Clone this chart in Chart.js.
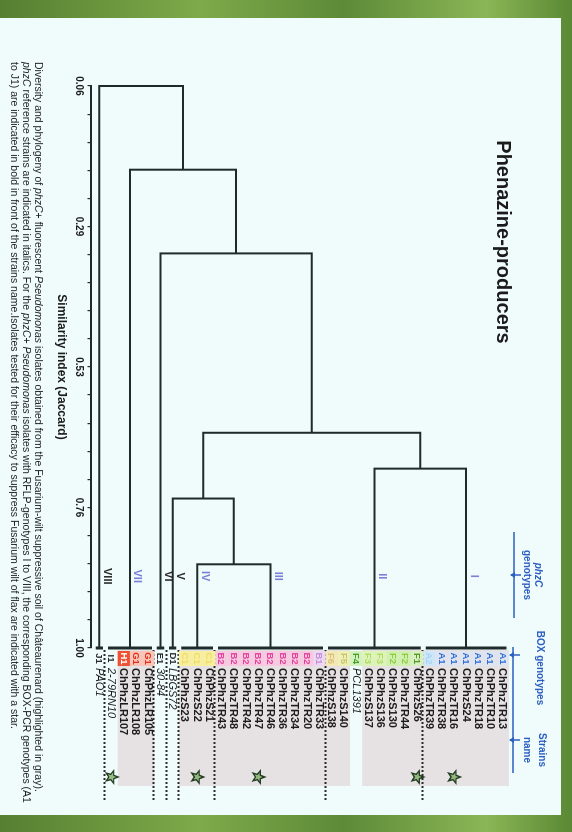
<!DOCTYPE html>
<html>
<head>
<meta charset="utf-8">
<script src="https://cdn.jsdelivr.net/npm/chart.js@4/dist/chart.umd.min.js"></script>
<style>
  body { margin:0; width:572px; height:832px; overflow:hidden; position:relative;
    background: linear-gradient(90deg, #567f31 0%, #7eaa4a 35%, #5d8a37 60%, #8bb656 85%, #5a8834 100%);
    font-family: "Liberation Sans", Arial, sans-serif; }
  #panel { position:absolute; left:0; top:18px; width:561px; height:797px; background:#effcfb; }
  #figure { position:absolute; left:0; top:0; width:832px; height:572px;
    transform-origin:0 0; transform: translate(572px, 0) rotate(90deg); }
  #figure canvas { position:absolute; left:0; top:0; }
  .txt { position:absolute; white-space:nowrap; color:#1b1b1b; }
  .title { left:92px; top:57px; width:300px; text-align:center; font-weight:bold; font-size:20px; }
  .head { color:#2d5fc2; font-weight:bold; font-size:10px; text-align:center; width:120px; }
  .caption { left:62px; top:527px; font-size:10.5px; line-height:12px; color:#222; }
</style>
</head>
<body>
<div id="panel"></div>
<div id="figure">
  <canvas id="chart" width="832" height="572"></canvas>
  <div class="txt title">Phenazine-producers</div>
  <div class="txt head" style="left:515px; top:28px;"><i>phzC</i></div>
  <div class="txt head" style="left:515px; top:39px;">genotypes</div>
  <div class="txt head" style="left:608px; top:26px;">BOX genotypes</div>
  <div class="txt head" style="left:690px; top:24px;">Strains</div>
  <div class="txt head" style="left:690px; top:39px;">name</div>
  <div class="txt caption">
    <div>Diversity and phylogeny of <i>phzC</i>+ fluorescent <i>Pseudomonas</i> isolates obtained from the Fusarium-wilt suppressive soil of Châteaurenard (highlighted in gray).</div>
    <div><i>phzC</i> reference strains are indicated in italics. For the <i>phzC</i>+ <i>Pseudomonas</i> isolates with RFLP-genotypes I to VIII, the corresponding BOX-PCR genotypes (A1</div>
    <div>to J1) are indicated in bold in front of the strains name.Isolates tested for their efficacy to suppress Fusarium wilt of flax are indicated with a star.</div>
  </div>
</div>
<script>
// RFLP clusters (phzC genotypes), listed top to bottom
const clusterNames = ['I', 'II', 'III', 'IV', 'V', 'VI', 'VII', 'VIII'];
const clusterSizes = [7, 8, 9, 3, 1, 1, 4, 1];

// merges: node ids 0-7 are clusters, 8+ are merged nodes in order
const mergeLeft = [3, 1, 4, 10, 5, 6, 7];
const mergeRight = [2, 0, 8, 9, 11, 12, 13];
const mergeSimilarity = [0.86, 0.70, 0.75, 0.64, 0.34, 0.20, 0.06];

const boxGenotypes = ['A1', 'A1', 'A1', 'A1', 'A1', 'A1', 'A2',
  'F1', 'F2', 'F2', 'F3', 'F3', 'F4', 'F5', 'F6',
  'B1', 'B2', 'B2', 'B2', 'B2', 'B2', 'B2', 'B2', 'B2',
  'C1', 'C1', 'C1', 'D1', 'E1', 'G1', 'G1', 'H1', 'I1', 'J1'];
const strainNames = ['ChPhzTR13', 'ChPhzTR10', 'ChPhzTR18', 'ChPhzS24', 'ChPhzTR16', 'ChPhzTR38', 'ChPhzTR39',
  'ChPhzS26', 'ChPhzTR44', 'ChPhzS130', 'ChPhzS136', 'ChPhzS137', 'PCL1391', 'ChPhzS140', 'ChPhzS138',
  'ChPhzTR33', 'ChPhzTR20', 'ChPhzTR34', 'ChPhzTR36', 'ChPhzTR46', 'ChPhzTR47', 'ChPhzTR42', 'ChPhzTR48', 'ChPhzTR43',
  'ChPhzS21', 'ChPhzS22', 'ChPhzS23', 'LBGS72', '30-84', 'ChPhzLR105', 'ChPhzLR108', 'ChPhzLR107', '2-79RN10', 'PAO1'];
const testedStrains = ['ChPhzTR16', 'ChPhzS26', 'ChPhzTR47', 'ChPhzS22', '2-79RN10'];
const axisTickLabels = ['0.06', '0.29', '0.53', '0.76', '1.00'];

// tag colours for BOX genotypes: [text, background]
const tagColors = {
  A1: ['#2f6fd6', '#dfe4ef'], A2: ['#a9d3f3', '#cde7fa'],
  F1: ['#4f9a25', '#d9efc2'], F2: ['#8fcb47', '#d0f1ae'], F3: ['#b0da6c', '#ddf4b6'],
  F4: ['#47a02c', '#d3f2bf'], F5: ['#c9c56c', '#eef0b6'], F6: ['#d8c27a', '#f3e8b6'],
  B1: ['#c58fd6', '#eed7f2'], B2: ['#e2409a', '#f7c9e1'],
  C1: ['#efdc6a', '#f7ee9e'],
  G1: ['#e3301f', '#f8c5b6'], H1: ['#ffffff', '#ef5233']
};
const lightNumerals = ['I', 'II', 'III', 'IV', 'VII'];

const leafCluster = [];
clusterSizes.forEach((n, c) => { for (let k = 0; k < n; k++) leafCluster.push(c); });
const clusterFirst = clusterNames.map((_, c) => leafCluster.indexOf(c));
const clusterLast = clusterNames.map((_, c) => leafCluster.lastIndexOf(c));

const nodePos = clusterNames.map((_, c) => (clusterFirst[c] + clusterLast[c]) / 2);
const nodeSim = clusterNames.map(() => 1);

const lineStyle = { showLine: true, pointRadius: 0, borderColor: '#1f2a2c', borderWidth: 2, clip: false, tension: 0 };
const datasets = [];

mergeLeft.forEach((a, k) => {
  const b = mergeRight[k], s = mergeSimilarity[k];
  datasets.push(Object.assign({
    data: [{ x: nodeSim[a], y: nodePos[a] }, { x: s, y: nodePos[a] }, { x: s, y: nodePos[b] }, { x: nodeSim[b], y: nodePos[b] }]
  }, lineStyle));
  nodePos.push((nodePos[a] + nodePos[b]) / 2);
  nodeSim.push(s);
});

// bar at 1.00 spanning the strains of each cluster
clusterNames.forEach((_, c) => {
  datasets.push(Object.assign({
    data: [{ x: 1, y: clusterFirst[c] - 0.3 }, { x: 1, y: clusterLast[c] + 0.3 }]
  }, lineStyle, { borderWidth: 3 }));
});

function star(ctx, x, y, r1, r2) {
  ctx.beginPath();
  for (let i = 0; i < 10; i++) {
    const r = i % 2 ? r2 : r1;
    const a = -Math.PI / 2 + i * Math.PI / 5;
    ctx.lineTo(x + r * Math.cos(a), y + r * Math.sin(a));
  }
  ctx.closePath();
}

const leafPlugin = {
  id: 'leafLabels',
  beforeDatasetsDraw(chart) {
    const ctx = chart.ctx, ys = chart.scales.y;
    const half = (ys.getPixelForValue(1) - ys.getPixelForValue(0)) / 2;
    ctx.save();
    // grey band behind the soil isolates
    ctx.fillStyle = '#e6e1e3';
    let i = 0;
    while (i < strainNames.length) {
      if (!strainNames[i].startsWith('ChPhz')) { i++; continue; }
      let j = i;
      while (j + 1 < strainNames.length && strainNames[j + 1].startsWith('ChPhz')) j++;
      const top = ys.getPixelForValue(i) - half, bot = ys.getPixelForValue(j) + half;
      ctx.fillRect(650, top, 136, bot - top);
      i = j + 1;
    }
    ctx.restore();
  },
  afterDatasetsDraw(chart) {
    const ctx = chart.ctx, ys = chart.scales.y, xs = chart.scales.x;
    const half = (ys.getPixelForValue(1) - ys.getPixelForValue(0)) / 2;
    ctx.save();

    // dotted separators between clusters
    ctx.strokeStyle = '#2a2a2a';
    ctx.lineWidth = 2;
    ctx.setLineDash([2, 2]);
    clusterNames.slice(0, -1).forEach((_, c) => {
      const y = Math.round(ys.getPixelForValue(clusterLast[c] + 0.5)) + 0.5;
      ctx.beginPath(); ctx.moveTo(650, y); ctx.lineTo(800, y); ctx.stroke();
    });
    ctx.setLineDash([]);

    // BOX genotype tags and strain names
    ctx.textBaseline = 'middle';
    strainNames.forEach((name, i) => {
      const y = ys.getPixelForValue(i);
      const tag = boxGenotypes[i];
      const col = tagColors[tag];
      if (col) {
        ctx.fillStyle = col[1];
        ctx.fillRect(651, y - half, 15, half * 2);
      }
      ctx.fillStyle = col ? col[0] : '#2a2a2a';
      ctx.font = 'bold 9.5px "Liberation Sans"';
      ctx.textAlign = 'center';
      ctx.fillText(tag, 658.5, y + 0.5);
      const isolate = name.startsWith('ChPhz');
      ctx.fillStyle = '#1c1c1c';
      ctx.font = (isolate ? 'bold ' : 'italic ') + '11px "Liberation Sans"';
      ctx.textAlign = 'left';
      ctx.fillText(name, 668, y + 0.5);
      if (testedStrains.includes(name)) {
        star(ctx, 777, y, 6.5, 2.8);
        ctx.fillStyle = 'rgba(120,168,88,0.75)';
        ctx.fill();
        ctx.strokeStyle = '#233d25';
        ctx.lineWidth = 1.4;
        ctx.stroke();
      }
    });

    // cluster numerals above their branches
    ctx.font = 'bold 11px "Liberation Sans"';
    ctx.textAlign = 'center';
    ctx.textBaseline = 'bottom';
    clusterNames.forEach((n, c) => {
      ctx.fillStyle = lightNumerals.includes(n) ? '#7a7fd8' : '#2a2a2a';
      ctx.fillText(n, xs.getPixelForValue(0.88), ys.getPixelForValue(nodePos[c]) - 2);
    });

    // header rules with arrows
    ctx.strokeStyle = '#2d5fc2';
    ctx.fillStyle = '#2d5fc2';
    ctx.lineWidth = 1.5;
    const rule = (x0, x1, y, arrows) => {
      ctx.beginPath(); ctx.moveTo(x0, y); ctx.lineTo(x1, y); ctx.stroke();
      arrows.forEach(ax => {
        ctx.beginPath(); ctx.moveTo(ax, y - 7); ctx.lineTo(ax, y + 3); ctx.stroke();
        ctx.beginPath(); ctx.moveTo(ax - 3, y - 1); ctx.lineTo(ax + 3, y - 1); ctx.lineTo(ax, y + 4); ctx.closePath(); ctx.fill();
      });
    };
    rule(532, 618, 58, [575]);
    rule(647, 773, 59, [655, 740]);
    ctx.restore();
  }
};

new Chart(document.getElementById('chart'), {
  type: 'scatter',
  data: { datasets },
  options: {
    responsive: false,
    animation: false,
    events: [],
    layout: { padding: { left: 86, right: 184, top: 57, bottom: 54 } },
    plugins: { legend: { display: false }, tooltip: { enabled: false } },
    scales: {
      x: {
        type: 'linear', min: 0.06, max: 1.0, position: 'bottom',
        afterBuildTicks: s => { s.ticks = Array.from({ length: 21 }, (_, i) => ({ value: 0.06 + i * 0.047 })); },
        grid: { display: true, drawOnChartArea: false, drawTicks: true, tickLength: 4, color: '#2a2a2a', lineWidth: 1.2 },
        border: { display: true, color: '#1f2a2c', width: 2 },
        ticks: {
          autoSkip: false, maxRotation: 0, padding: 3, color: '#1b1b1b',
          font: { family: 'Liberation Sans', size: 10, weight: 'bold' },
          callback: (v, i) => (i % 5 === 0 ? axisTickLabels[i / 5] : '')
        },
        title: {
          display: true, text: 'Similarity index (Jaccard)', color: '#1b1b1b',
          font: { family: 'Liberation Sans', size: 12, weight: 'bold' }, padding: { top: 1, bottom: 0 }
        }
      },
      y: { type: 'linear', min: -1, max: 33.65, reverse: true, display: false }
    }
  },
  plugins: [leafPlugin]
});
</script>
</body>
</html>
